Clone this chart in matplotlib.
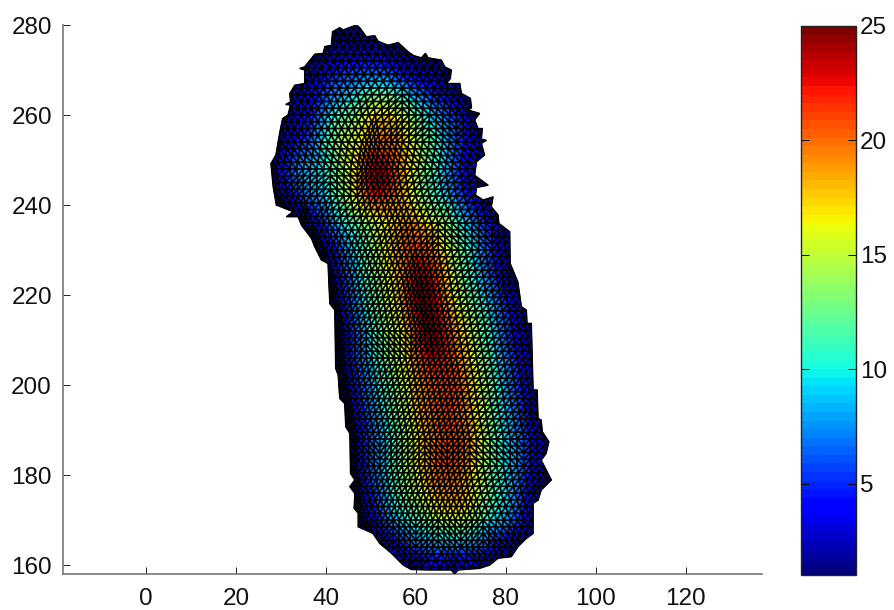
import matplotlib
matplotlib.use('agg')
from matplotlib import pyplot as plt
from matplotlib.patches import Polygon
import matplotlib.tri as mtri
import numpy as np

plt.rcParams['font.family'] = ['Liberation Sans', 'DejaVu Sans']

outlineX = [41.5, 43.1, 43.85, 46.8, 47.55, 49.0, 50.9, 51.6, 53.85, 56.1, 58.3, 59.55, 61.25, 62.15, 62.75,
            65.7, 66.45, 67.9, 67.7, 66.8, 69.8, 70.15, 72.15, 72.4, 71.6, 74.2, 73.1, 73.85, 74.8, 74.6,
            75.7, 74.6, 75.3, 73.5, 73.1, 76.1, 73.5, 73.3, 75.0, 77.2, 76.8, 78.3, 78.5, 80.9, 81.0, 82.7,
            83.5, 84.6, 84.75, 85.7, 86.1, 87.0, 87.2, 87.9, 88.15, 89.6, 89.0, 87.9, 90.15, 87.9, 87.2,
            86.1, 86.1, 84.6, 82.75, 81.25, 78.3, 76.45, 74.2, 69.4, 68.65, 67.9, 63.1, 59.0, 57.2, 54.6,
            52.0, 50.5, 47.2, 47.2, 46.3, 46.45, 45.35, 46.45, 45.5, 45.35, 44.45, 44.2, 43.1, 42.75, 42.2,
            42.0, 40.9, 40.75, 40.5, 39.0, 37.55, 36.8, 34.6, 33.85, 31.25, 32.75, 29.0, 28.3, 27.8, 28.9,
            29.8, 30.4, 31.6, 32.15, 31.1, 32.15, 32.0, 33.1, 34.2, 35.3, 35.3, 34.2, 35.3, 37.55, 39.4,
            39.8, 41.25]
outlineY = [278.5, 279.4, 278.9, 280.0, 279.4, 277.4, 277.6, 276.4, 275.5, 276.1, 274.05, 273.2, 272.7, 273.7, 272.7,
            272.2, 270.7, 270.0, 268.1, 267.0, 267.0, 264.8, 263.7, 261.6, 261.1, 260.35, 258.9, 257.0, 257.0, 254.65,
            254.35, 253.7, 251.1, 249.6, 246.6, 244.4, 243.9, 242.2, 241.1, 241.8, 239.6, 237.8, 235.9, 234.05, 227.0, 222.9,
            217.4, 216.65, 213.7, 213.7, 198.9, 198.9, 192.6, 192.2, 189.6, 187.4, 184.8, 183.3, 178.9, 176.65, 174.4,
            173.7, 167.0, 165.9, 164.1, 161.85, 161.5, 160.0, 159.25, 158.9, 158.0, 158.9, 158.9, 159.0, 160.0, 162.6,
            164.8, 167.0, 168.5, 171.5, 172.6, 175.9, 177.4, 178.9, 180.35, 189.25, 190.7, 195.9, 197.0, 202.2, 203.7,
            216.65, 218.1, 221.1, 227.0, 227.8, 230.7, 232.6, 235.5, 237.4, 237.4, 238.5, 240.0, 244.05, 249.2, 251.1,
            256.3, 259.2, 260.0, 262.2, 262.35, 262.9, 264.8, 266.6, 266.8, 267.0, 270.0, 270.35, 270.7, 273.5, 273.7,
            275.2, 275.5]

# coarse samples of the field, one row per y
rowY = [284, 278, 272, 266, 260, 254, 248, 242, 236, 230, 224, 218, 212, 206, 200, 194, 188, 182, 176, 170, 164, 158]
rowX = [[38, 46, 54],
        [38, 44, 50, 56],
        [34, 40, 47, 54, 61, 68],
        [30, 36, 43, 50, 57, 64, 70, 74],
        [28, 33, 39, 45, 51, 57, 63, 69, 75],
        [26, 30, 36, 42, 48, 52, 57, 63, 69, 76],
        [25, 29, 35, 41, 47, 51, 56, 62, 68, 75],
        [26, 30, 35, 41, 47, 52, 57, 63, 69, 76],
        [33, 37, 42, 48, 54, 59, 65, 71, 77, 82],
        [37, 40, 45, 50, 55, 60, 65, 71, 77, 83],
        [39, 42, 47, 52, 57, 61, 66, 72, 78, 83],
        [40, 43, 48, 53, 58, 62, 67, 73, 79, 85],
        [41, 44, 49, 54, 59, 63, 68, 74, 80, 86],
        [41, 44, 49, 54, 59, 64, 69, 75, 81, 87],
        [42, 45, 50, 55, 60, 65, 70, 76, 82, 88],
        [43, 46, 51, 56, 61, 66, 71, 77, 83, 88],
        [44, 47, 52, 57, 62, 67, 72, 78, 84, 90],
        [44, 47, 52, 57, 62, 67, 72, 78, 84, 90],
        [45, 48, 53, 58, 63, 68, 73, 79, 85, 90],
        [46, 50, 55, 60, 65, 70, 75, 81, 87],
        [50, 55, 60, 65, 70, 75, 80, 85],
        [52, 60, 68, 76, 84]]
rowV = [[1, 1, 1],
        [1, 1.5, 1.5, 1],
        [1, 2.5, 4, 3.5, 1.5, 1],
        [1, 3, 7, 10, 8, 4, 1.5, 1],
        [1, 3, 7, 12, 17, 15, 9, 5, 1],
        [1, 2.5, 6, 13, 17, 20, 18, 12, 6, 1.5],
        [1, 3, 8, 11, 18, 24, 20, 13, 7, 2],
        [1, 2, 6, 10, 17, 22, 18, 12, 7, 2],
        [1, 3, 8, 13, 17, 19, 15, 9, 4, 1],
        [1, 2.5, 8, 13, 18, 21, 18, 11, 5, 1],
        [1, 3, 9, 14, 19, 24, 19, 11, 5, 1],
        [1, 3, 9, 14, 20, 25, 19, 12, 6, 1.5],
        [1, 3, 9, 14, 19, 25, 20, 13, 6, 1.5],
        [1, 3, 8, 13, 18, 23, 20, 13, 6, 1.5],
        [1, 3, 8, 13, 18, 21, 20, 13, 6, 1.5],
        [1, 3, 8, 13, 18, 21, 19, 12, 6, 1.5],
        [1, 3, 8, 13, 18, 21, 19, 11, 6, 1.5],
        [1, 3, 8, 13, 18, 21, 18, 11, 6, 1.5],
        [1, 3, 8, 13, 17, 19, 16, 10, 4, 1],
        [1, 3, 8, 11, 14, 15, 11, 7, 2],
        [1, 3, 6, 7, 7, 6, 3, 1],
        [1, 1.5, 1.5, 1.5, 1]]

xTicks = [0, 20, 40, 60, 80, 100, 120]
yTicks = [160, 180, 200, 220, 240, 260, 280]
cbarTicks = [5, 10, 15, 20, 25]

GREY = '#777777'
jet = plt.get_cmap('jet', 64)

nodeX = np.concatenate(rowX).astype(float)
nodeY = np.concatenate([[y] * len(xs) for y, xs in zip(rowY, rowX)]).astype(float)
nodeV = np.concatenate(rowV).astype(float)

coarse = mtri.Triangulation(nodeX, nodeY)
refiner = mtri.UniformTriRefiner(coarse)
fine, fineV = refiner.refine_field(nodeV, subdiv=2)

fig = plt.figure(figsize=(8.95, 6.10), dpi=100)
ax = fig.add_axes([63 / 895, 36 / 610, 699 / 895, 549 / 610])

shape = Polygon(np.column_stack([outlineX, outlineY]), closed=True, fc='black', ec='black', lw=0.5, zorder=1)
ax.add_patch(shape)
mesh = ax.tripcolor(fine, fineV, cmap=jet, vmin=1, vmax=25, shading='flat', edgecolors='none', zorder=2)
mesh.set_clip_path(shape)
lines = ax.triplot(fine, color='black', lw=1.25, zorder=3)
for l in lines:
    l.set_clip_path(shape)
ax.add_patch(Polygon(np.column_stack([outlineX, outlineY]), closed=True, fc='none', ec='black', lw=1.0, zorder=4))

ax.set_xlim(-18.44, 137)
ax.set_ylim(158, 280)
ax.set_xticks(xTicks)
ax.set_yticks(yTicks)
ax.spines['top'].set_visible(False)
ax.spines['right'].set_visible(False)
ax.spines['left'].set_color(GREY)
ax.spines['bottom'].set_color(GREY)
ax.spines['left'].set_linewidth(1.2)
ax.spines['bottom'].set_linewidth(1.2)
ax.tick_params(direction='in', length=5, width=0.7, color='#222222', labelsize=17.5, labelcolor='#111111')
ax.tick_params(axis='x', pad=10)
ax.tick_params(axis='y', pad=8)

cax = fig.add_axes([801 / 895, 35 / 610, 55 / 895, 549 / 610])
cbar = fig.colorbar(mesh, cax=cax)
cbar.set_ticks(cbarTicks)
cbar.ax.tick_params(direction='in', length=6, width=0.7, color='black', labelsize=17.5, pad=3, right=True, left=True,
                    labelcolor='#111111')
cbar.outline.set_edgecolor('#222222')
cbar.outline.set_linewidth(1.0)

plt.savefig('out.png', dpi=100)
